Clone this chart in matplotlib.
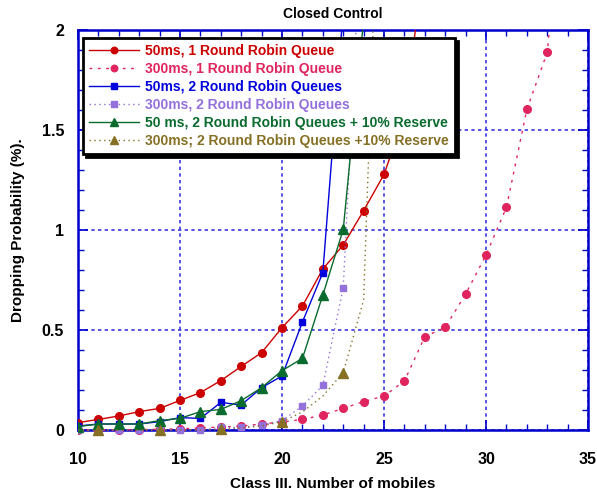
import matplotlib
matplotlib.use('Agg')
import matplotlib.pyplot as plt
import numpy as np
from matplotlib.ticker import MultipleLocator
from matplotlib.transforms import Bbox, TransformedBbox

plt.rcParams['font.family'] = ['Liberation Sans', 'DejaVu Sans']
plt.rcParams['font.weight'] = 'bold'

# dropping probability (%) vs number of class III mobiles
red_x = np.arange(10, 28)
red_y = [0.037, 0.053, 0.07, 0.092, 0.108, 0.148, 0.187, 0.247, 0.318, 0.387,
         0.512, 0.62, 0.805, 0.925, 1.097, 1.278, 1.57, 2.37]

pink_x = np.arange(10, 35)
pink_y = [0, 0, 0, 0.002, 0.004, 0.006, 0.01, 0.015, 0.02, 0.03, 0.04,
          0.053, 0.075, 0.108, 0.142, 0.17, 0.245, 0.467, 0.513, 0.68,
          0.875, 1.113, 1.603, 1.888, 2.95]

blue_x = np.arange(10, 24)
blue_y = [0.02, 0.03, 0.03, 0.03, 0.042, 0.062, 0.058, 0.138, 0.125, 0.212,
          0.27, 0.54, 0.787, 2.1]

purple_x = np.arange(10, 25)
purple_y = [0, 0, 0, 0, 0, 0, 0, 0.013, 0.013, 0.025, 0.047, 0.12, 0.223,
            0.712, 2.78]

green_x = np.arange(10, 25)
green_y = [0.017, 0.03, 0.03, 0.03, 0.047, 0.058, 0.092, 0.103, 0.147, 0.212,
           0.297, 0.358, 0.675, 1.003, 2.05]

olive_x = np.arange(10, 26)
olive_y = [0, 0, 0, 0, 0, 0, 0, 0.003, 0.01, 0.02, 0.042, 0.09, 0.17, 0.287,
           0.65, 3.6]

labels = ['50ms, 1 Round Robin Queue',
          '300ms, 1 Round Robin Queue',
          '50ms, 2 Round Robin Queues',
          '300ms, 2 Round Robin Queues',
          '50 ms, 2 Round Robin Queues + 10% Reserve',
          '300ms; 2 Round Robin Queues +10% Reserve']
colors = ['#CC0000', '#E0245E', '#0000DD', '#9370DB', '#0A6B2E', '#857024']

fig = plt.figure(figsize=(5.97, 4.97), dpi=100)
ax = fig.add_axes([0.1307, 0.1348, 0.8543, 0.8048])

series = [
    (red_x, red_y, 'o', '-', 5.5, None),
    (pink_x, pink_y, 'o', (0, (2, 4)), 5.5, None),
    (blue_x, blue_y, 's', '-', 5, None),
    (purple_x, purple_y, 's', (0, (1, 2.5)), 5, None),
    (green_x, green_y, '^', '-', 6.5, None),
    (olive_x, olive_y, '^', (0, (1, 2.5)), 6.5, (1, 3)),
]

# let markers sitting on y=0 show fully below the axis line
clip = TransformedBbox(Bbox([[0, -0.04], [1, 1]]), ax.transAxes)

for (x, y, m, ls, ms, every), lab, c in zip(series, labels, colors):
    ln, = ax.plot(x, y, marker=m, linestyle=ls, color=c, lw=1.0, ms=ms,
                  mec=c, mfc=c, markevery=every, label=lab, zorder=3)
    ln.set_clip_box(clip)

ax.set_xlim(10, 35)
ax.set_ylim(0, 2)
ax.xaxis.set_major_locator(MultipleLocator(5))
ax.xaxis.set_minor_locator(MultipleLocator(1))
ax.yaxis.set_minor_locator(MultipleLocator(0.1))
ax.set_yticks([0, 0.5, 1, 1.5, 2])
ax.set_yticklabels(['0', '0.5', '1', '1.5', '2'])

ax.grid(True, which='major', color='#3838E0', linestyle=(0, (2, 2)), lw=1.2)
ax.set_axisbelow(True)
for s in ax.spines.values():
    s.set_color('#0000CC')
    s.set_linewidth(1.8)
ax.tick_params(which='both', direction='in', top=True, right=True,
               color='#0000CC', labelsize=11.5)
ax.tick_params(axis='x', pad=16)
ax.tick_params(axis='y', pad=10)
ax.tick_params(which='major', length=7, width=1.2)
ax.tick_params(which='minor', length=4, width=1.0)
for t in ax.get_xticklabels() + ax.get_yticklabels():
    t.set_fontweight('bold')

ax.set_xlabel('Class III. Number of mobiles', fontsize=11, fontweight='bold',
              labelpad=7)
ax.set_ylabel('Dropping Probability (%).', fontsize=11, fontweight='bold',
              labelpad=12)
ax.set_title('Closed Control', fontsize=10, fontweight='bold', pad=9)

leg = ax.legend(loc='upper left', bbox_to_anchor=(0.01, 0.98), fontsize=10,
                fancybox=False, framealpha=1, edgecolor='black',
                handlelength=3.6, handletextpad=0.4, labelspacing=0.28,
                borderpad=0.45, borderaxespad=0, markerscale=0.85,
                shadow={'color': 'black', 'alpha': 1})
leg.get_frame().set_linewidth(2)
for txt, c in zip(leg.get_texts(), colors):
    txt.set_color(c)
    txt.set_fontweight('bold')

fig.savefig('out.png', dpi=100)
